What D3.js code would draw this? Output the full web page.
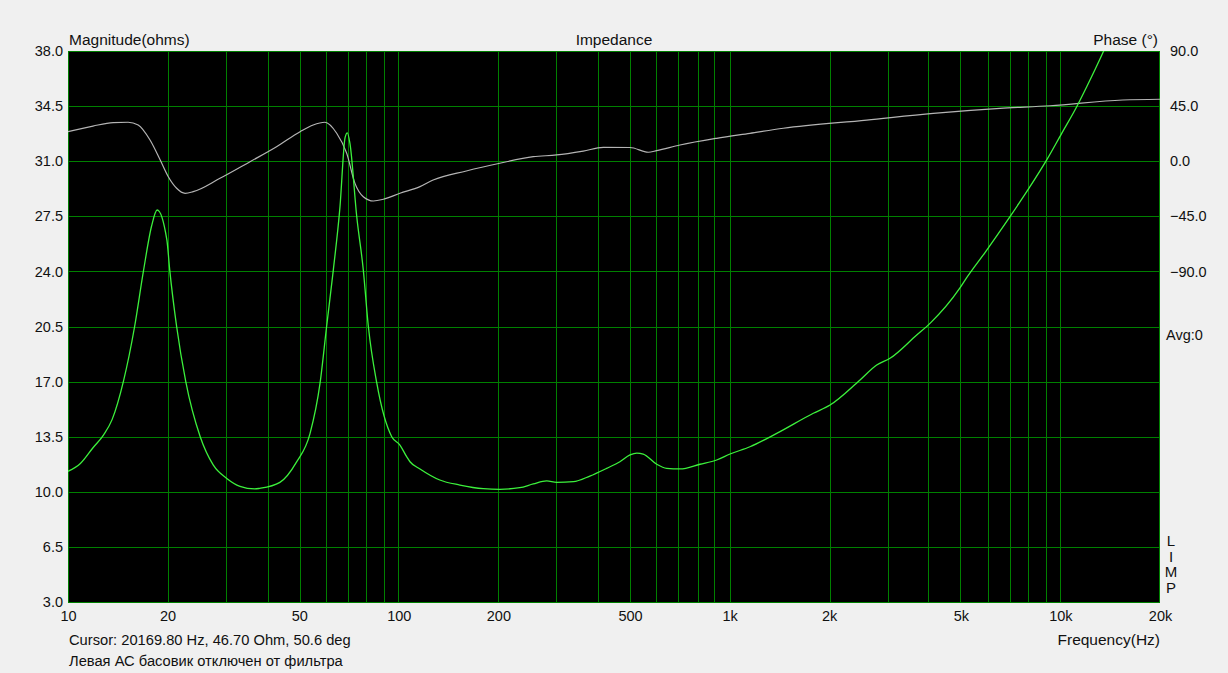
<!DOCTYPE html>
<html>
<head>
<meta charset="utf-8">
<script src="https://cdn.jsdelivr.net/npm/d3@7"></script>
<style>
  html, body { margin: 0; padding: 0; background: #f0f0f0; }
  svg { display: block; }
  text { font-family: "Liberation Sans", Arial, sans-serif; fill: #111; }
</style>
</head>
<body>
<svg id="chart" width="1228" height="673"></svg>
<script>
// ---- data ----
const magFreq = [10, 10.9, 11.9, 12.8, 13.6, 14.7, 15.9, 16.9, 17.9, 18.6, 19.9, 20.3, 21.3, 22.7, 25.1, 27.5, 30.2, 33.1, 36.7, 38, 43.7, 49.1, 53.9, 57.8, 60.5, 63.4, 66.4, 68.8, 69.9, 71.2, 74.6, 78.1, 80.9, 85.8, 95.2, 100.8, 105.6, 108.1, 115.9, 133, 153, 180, 202, 232, 255, 280, 300, 337, 378, 425, 466, 500, 524, 548, 602, 645, 708, 814, 914, 1003, 1152, 1388, 1791, 2012, 2479, 2784, 3054, 3678, 4035, 4970, 5208, 5916, 7041, 8091, 9090, 10090, 11200, 12010, 13480, 15500, 17500, 20169];
const magOhm = [11.3, 11.8, 12.8, 13.6, 14.6, 17.0, 20.5, 24.0, 26.9, 27.9, 26.0, 24.1, 20.5, 17.0, 13.5, 11.7, 10.85, 10.35, 10.18, 10.22, 10.6, 11.9, 13.7, 16.9, 20.5, 24.1, 28.1, 32.5, 32.8, 32.1, 27.5, 24.1, 20.5, 16.9, 13.5, 12.97, 12.23, 11.91, 11.45, 10.75, 10.43, 10.2, 10.16, 10.26, 10.5, 10.69, 10.6, 10.64, 11.0, 11.49, 11.91, 12.34, 12.46, 12.4, 11.75, 11.49, 11.45, 11.75, 12.02, 12.4, 12.86, 13.71, 14.99, 15.51, 17.1, 18.05, 18.48, 19.96, 20.7, 22.95, 23.6, 25.2, 27.48, 29.38, 31.08, 32.77, 34.46, 35.73, 37.95, 40.9, 43.6, 46.7];

const phaseFreq = [10, 11.9, 13.7, 15.2, 16.3, 17.7, 19.0, 20.1, 21.3, 22.6, 23.9, 28.8, 35.5, 42.7, 50.3, 55.1, 59.8, 64.9, 69.6, 73.7, 78.1, 83.8, 89.8, 100.8, 115.9, 127, 160, 202, 255, 300, 361, 415, 500, 568, 602, 708, 914, 1152, 1453, 2597, 4129, 6568, 9303, 15430, 20169];
const phaseDeg = [24.1, 28.7, 31.5, 31.8, 29.6, 17.3, 1.0, -12.7, -22.1, -26.2, -24.9, -14.0, -0.4, 11.8, 24.1, 29.6, 31.8, 22.8, 6.4, -18.1, -29.0, -32.5, -31.1, -26.2, -20.8, -15.4, -8.0, -1.7, 3.7, 5.1, 8.3, 11.3, 11.2, 7.3, 8.6, 13.2, 18.7, 22.8, 26.9, 33.6, 39.1, 43.2, 45.3, 50.0, 50.6];

const magTicks = [3.0, 6.5, 10.0, 13.5, 17.0, 20.5, 24.0, 27.5, 31.0, 34.5, 38.0];
const phaseTicks = [90.0, 45.0, 0.0, -45.0, -90.0];
const freqTicks = [10, 20, 50, 100, 200, 500, 1000, 2000, 5000, 10000, 20000];
const freqTickLabels = ["10", "20", "50", "100", "200", "500", "1k", "2k", "5k", "10k", "20k"];
const freqGrid = [10,20,30,40,50,60,70,80,90,100,200,300,400,500,600,700,800,900,1000,2000,3000,4000,5000,6000,7000,8000,9000,10000,20000];

const texts = {
  title: "Impedance",
  leftTitle: "Magnitude(ohms)",
  rightTitle: "Phase (°)",
  xTitle: "Frequency(Hz)",
  cursor: "Cursor: 20169.80 Hz, 46.70 Ohm, 50.6 deg",
  note: "Левая АС басовик отключен от фильтра",
  avg: "Avg:0",
  limp: "LIMP"
};

// ---- layout ----
const L = 68, R = 1160, T = 51, B = 602;
const svg = d3.select("#chart");

const x = d3.scaleLog().domain([10, 20000]).range([L, R]);
const yMag = d3.scaleLinear().domain([3, 38]).range([B, T]);
const yPh = d3.scaleLinear().domain([-360, 90]).range([B, T]);

svg.append("rect").attr("x", L).attr("y", T).attr("width", R - L).attr("height", B - T).attr("fill", "#000");

svg.append("defs").append("clipPath").attr("id", "clip")
  .append("rect").attr("x", L).attr("y", T).attr("width", R - L).attr("height", B - T);

// snap vertical grid lines to even pixel columns so they keep their colour
const snapX = d => Math.min(R - 1, Math.round(x(d) / 2) * 2) + 0.5;
const grid = svg.append("g").attr("stroke", "#008000").attr("stroke-width", 1).attr("shape-rendering", "crispEdges");
grid.selectAll("line.v").data(freqGrid).join("line").attr("class", "v")
  .attr("x1", snapX).attr("x2", snapX)
  .attr("y1", T).attr("y2", B);
grid.selectAll("line.h").data(magTicks).join("line").attr("class", "h")
  .attr("y1", d => Math.round(yMag(d)) + 0.5).attr("y2", d => Math.round(yMag(d)) + 0.5)
  .attr("x1", L).attr("x2", R);

const plot = svg.append("g").attr("clip-path", "url(#clip)");

const phaseData = phaseFreq.map((f, i) => [f, phaseDeg[i]]);
const magData = magFreq.map((f, i) => [f, magOhm[i]]);

plot.append("path").datum(phaseData)
  .attr("fill", "none").attr("stroke", "#b4b4b4").attr("stroke-width", 1.2)
  .attr("d", d3.line().x(d => x(d[0])).y(d => yPh(d[1])).curve(d3.curveMonotoneX));

plot.append("path").datum(magData)
  .attr("fill", "none").attr("stroke", "#3cf03c").attr("stroke-width", 1.3)
  .attr("d", d3.line().x(d => x(d[0])).y(d => yMag(d[1])).curve(d3.curveMonotoneX));

// ---- axes labels ----
const fsTick = 14.5, fsTitle = 15.5, fsNote = 14.7;
const font = "Liberation Sans, Arial, sans-serif";
const leftAxis = d3.axisLeft(yMag).tickValues(magTicks).tickFormat(d3.format(".1f")).tickSize(0).tickPadding(5);
const gl = svg.append("g").attr("transform", `translate(${L},0)`).call(leftAxis);
gl.select(".domain").remove();
gl.selectAll("text").attr("font-size", fsTick).attr("fill", "#111").attr("font-family", font);

const rightAxis = d3.axisRight(yPh).tickValues(phaseTicks).tickFormat(d3.format(".1f")).tickSize(0).tickPadding(10);
const gr = svg.append("g").attr("transform", `translate(${R},0)`).call(rightAxis);
gr.select(".domain").remove();
gr.selectAll("text").attr("font-size", fsTick).attr("fill", "#111").attr("font-family", font);

const bottomAxis = d3.axisBottom(x).tickValues(freqTicks).tickFormat((d, i) => freqTickLabels[i]).tickSize(0).tickPadding(9);
const gb = svg.append("g").attr("transform", `translate(0,${B})`).call(bottomAxis);
gb.select(".domain").remove();
gb.selectAll("text").attr("font-size", fsTick).attr("fill", "#111").attr("font-family", font);

svg.append("text").attr("x", L + 1).attr("y", 45).attr("font-size", fsTitle).text(texts.leftTitle);
svg.append("text").attr("x", (L + R) / 2).attr("y", 45).attr("font-size", fsTitle).attr("text-anchor", "middle").text(texts.title);
svg.append("text").attr("x", R - 2).attr("y", 45).attr("font-size", fsTitle).attr("text-anchor", "end").text(texts.rightTitle);
svg.append("text").attr("x", R).attr("y", 645).attr("font-size", fsTitle).attr("text-anchor", "end").text(texts.xTitle);
svg.append("text").attr("x", L + 1).attr("y", 645).attr("font-size", fsNote).text(texts.cursor);
svg.append("text").attr("x", L + 1).attr("y", 666).attr("font-size", fsNote).text(texts.note);
svg.append("text").attr("x", R + 6).attr("y", 340).attr("font-size", fsTick).text(texts.avg);
svg.append("text").attr("x", R + 11).attr("y", 532)
  .attr("font-size", 15).attr("writing-mode", "vertical-lr")
  .style("text-orientation", "upright").attr("letter-spacing", -1.5)
  .text(texts.limp);
</script>
</body>
</html>
